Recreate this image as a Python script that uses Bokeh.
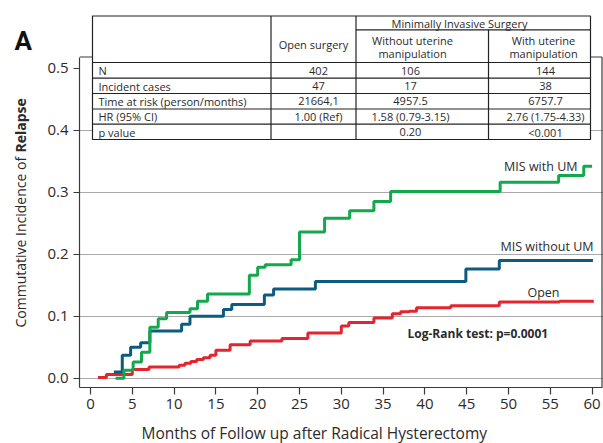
import numpy as np
from bokeh.plotting import figure
from bokeh.models import Range1d, FixedTicker, Label
from bokeh.layouts import row, column
from bokeh.core.properties import value
from bokeh.embed import file_html
from bokeh.resources import INLINE

# ---------------- data ----------------
with_um_months = [3.0, 4.0, 5.1, 6.1, 7.1, 8.1, 9.1, 11.9, 12.8, 14.0, 19.0, 20.0, 20.9,
                  24.0, 25.0, 28.0, 31.0, 33.9, 35.9, 49.0, 56.0, 59.0, 60.0]
with_um_values = [0.0, 0.013, 0.026, 0.042, 0.082, 0.096, 0.106, 0.112, 0.124, 0.136, 0.166,
                  0.179, 0.183, 0.191, 0.236, 0.258, 0.270, 0.285, 0.301, 0.316, 0.327,
                  0.342, 0.342]

without_um_months = [2.8, 3.8, 4.8, 6.0, 7.1, 10.9, 11.9, 15.9, 16.9, 20.8, 21.9, 26.9,
                     44.9, 48.9, 60.1]
without_um_values = [0.010, 0.037, 0.050, 0.057, 0.076, 0.087, 0.100, 0.111, 0.119, 0.134,
                     0.144, 0.156, 0.176, 0.190, 0.190]

open_months = [0.9, 1.9, 5.0, 7.0, 10.6, 11.3, 12.0, 12.7, 13.5, 14.3, 15.0, 16.7, 19.1,
               22.9, 26.0, 30.0, 30.9, 33.9, 36.1, 37.1, 38.1, 39.0, 43.1, 48.9, 56.1, 60.2]
open_values = [0.001, 0.006, 0.014, 0.018, 0.021, 0.024, 0.027, 0.030, 0.033, 0.037, 0.045,
               0.054, 0.060, 0.064, 0.073, 0.084, 0.090, 0.097, 0.104, 0.107, 0.108, 0.1136,
               0.117, 0.123, 0.124, 0.124]

x_ticks = [0, 5, 10, 15, 20, 25, 30, 35, 40, 45, 50, 55, 60]
y_ticks = [0.0, 0.1, 0.2, 0.3, 0.4, 0.5]
y_tick_labels = ["0.0", "0.1", "0.2", "0.3", "0.4", "0.5"]
grid_ticks = [0.0, 0.1, 0.2, 0.3, 0.4]

row_labels = ["N", "Incident cases", "Time at risk (person/months)", "HR (95% CI)", "p value"]
open_col = ["402", "47", "21664,1", "1.00 (Ref)", ""]
without_col = ["106", "17", "4957.5", "1.58 (0.79-3.15)", "0.20"]
with_col = ["144", "38", "6757.7", "2.76 (1.75-4.33)", "<0.001"]

# ---------------- layout / style ----------------
FONT = "Open Sans"
TXT = "#2b2b2b"
AX = "#3a3a3a"
GREEN, BLUE, RED = "#12a84b", "#0d5b80", "#e2252f"

W, H = 603, 443
LEFT_W = 40        # strip holding the y-axis title and the panel letter
BOTTOM_H = 23      # strip holding the x-axis title
FL, FR, FT, FB = 79, 603, 0, 387   # frame edges in page pixels
PX_X0, PX_PER_M = 90.0, 8.36
PX_Y0, PX_PER_U = 377.7, 620.0


def xd(px):
    return (px - PX_X0) / PX_PER_M


def yd(py):
    return (PX_Y0 - py) / PX_PER_U


MAIN_H = H - BOTTOM_H
p = figure(width=W - LEFT_W, height=MAIN_H, output_backend="svg", toolbar_location=None,
           x_range=Range1d(xd(FL), xd(FR)), y_range=Range1d(yd(FB), yd(FT)),
           min_border_left=FL - LEFT_W, min_border_right=W - FR, min_border_top=FT,
           min_border_bottom=MAIN_H - FB)
p.outline_line_color = None
p.background_fill_color = "white"
p.xgrid.visible = False
p.ygrid.ticker = FixedTicker(ticks=grid_ticks)
p.ygrid.grid_line_color = "#a9a9a9"
p.ygrid.grid_line_width = 1

for ax in (p.xaxis[0], p.yaxis[0]):
    ax.axis_line_color = AX
    ax.axis_line_width = 1.2
    ax.major_tick_line_color = AX
    ax.major_tick_line_width = 1.2
    ax.minor_tick_line_color = None
    ax.major_tick_in = 0
    ax.major_label_text_font = FONT
    ax.major_label_text_font_size = "15px"
    ax.major_label_text_color = TXT

p.xaxis.ticker = FixedTicker(ticks=x_ticks)
p.xaxis.major_tick_out = 7
p.xaxis.major_label_standoff = 4
p.xaxis.bounds = (xd(FL), xd(601.5))

p.yaxis.ticker = FixedTicker(ticks=y_ticks)
p.yaxis.major_label_overrides = {t: l for t, l in zip(y_ticks, y_tick_labels)}
p.yaxis.major_tick_out = 6
p.yaxis.major_label_standoff = 5
p.yaxis.bounds = (yd(FB), yd(56.5))

# box edges (top and right)
p.segment(x0=[xd(FL), xd(601.5)], y0=[yd(56.5), yd(56.5)],
          x1=[xd(601.5), xd(601.5)], y1=[yd(56.5), yd(FB)],
          line_color=AX, line_width=1.2)

# curves
for xs, ys, col in ((open_months, open_values, RED),
                    (without_um_months, without_um_values, BLUE),
                    (with_um_months, with_um_values, GREEN)):
    p.step(x=xs, y=ys, mode="after", line_color=col, line_width=3)

# ---------------- table ----------------
TL, TR, TT, TB = 92, 590, 15.5, 139
C1, C2, C3 = 270.5, 355.5, 488
ROWS = [62, 77.7, 93, 108.5, 123.7]
p.quad(left=[xd(TL)], right=[xd(TR)], top=[yd(TT)], bottom=[yd(TB)],
       fill_color="white", line_color="#222222", line_width=1.2)
hx0 = [xd(C2)] + [xd(TL)] * len(ROWS)
hx1 = [xd(TR)] * (len(ROWS) + 1)
hy = [yd(29.3)] + [yd(r) for r in ROWS]
p.segment(x0=hx0, y0=hy, x1=hx1, y1=hy, line_color="#222222", line_width=1.2)
vx = [xd(C1), xd(C2), xd(C3)]
vy0 = [yd(TT), yd(TT), yd(29.3)]
p.segment(x0=vx, y0=vy0, x1=vx, y1=[yd(TB)] * 3, line_color="#222222", line_width=1.2)

row_cy = [70, 85.5, 100.7, 116, 131.5]
tab_font = "11px"
p.text(x=[xd(98)] * 5, y=[yd(c) for c in row_cy], text=row_labels,
       text_font=value(FONT), text_font_size=tab_font, text_color=TXT,
       text_align="left", text_baseline="middle")
for cx, col in ((318, open_col), (410, without_col), (545, with_col)):
    p.text(x=[xd(cx)] * 5, y=[yd(c) for c in row_cy], text=col,
           text_font=value(FONT), text_font_size=tab_font, text_color=TXT,
           text_align="center", text_baseline="middle")

hdr_x = [xd(459), xd(313), xd(412), xd(412), xd(543), xd(543)]
hdr_y = [yd(22.5), yd(43.5), yd(40), yd(52.5), yd(40), yd(52.5)]
hdr_t = ["Minimally Invasive Surgery", "Open surgery", "Without uterine", "manipulation",
         "With uterine", "manipulation"]
p.text(x=hdr_x, y=hdr_y, text=hdr_t, text_font=value(FONT), text_font_size=tab_font,
       text_color=TXT, text_align="center", text_baseline="middle")


# ---------------- in-plot annotations ----------------
def lab(xp, yp, text, align="left", size="12.5px", style="normal"):
    p.add_layout(Label(x=xp - FL, y=FB - yp, x_units="screen", y_units="screen", text=text,
                       text_font=FONT, text_font_size=size, text_font_style=style,
                       text_color=TXT, text_align=align, text_baseline="middle"))


lab(577, 166, "MIS with UM", align="right")
lab(593, 246, "MIS without UM", align="right")
lab(559, 291.5, "Open", align="right")
lab(407, 333, "Log-Rank test: p=0.0001", size="12px", style="bold")


def strip(width, height, xr, yr):
    f = figure(width=width, height=height, output_backend="svg", toolbar_location=None,
               x_range=Range1d(*xr), y_range=Range1d(*yr),
               x_axis_type=None, y_axis_type=None,
               min_border_left=0, min_border_right=0, min_border_top=0, min_border_bottom=0)
    f.outline_line_color = None
    f.grid.visible = False
    return f


# ---------------- left strip: y-axis title (mixed weight) and panel letter ----------------
lf = strip(LEFT_W, H, (0, LEFT_W), (0, H))
lf.text(x=[19.5], y=[H - 327], text=["Commutative Incidence of"], angle=np.pi / 2,
        text_font=value(FONT), text_font_size="14px", text_color=TXT,
        text_align="left", text_baseline="middle")
lf.text(x=[19.5], y=[H - 152], text=["Relapse"], angle=np.pi / 2,
        text_font=value(FONT), text_font_size="14px", text_font_style="bold",
        text_color=TXT, text_align="left", text_baseline="middle")
lf.text(x=[14], y=[H - 40], text=["A"], text_font=value("Roboto"),
        text_font_size="26px", text_font_style="bold", text_color="#111111",
        text_align="left", text_baseline="alphabetic")

# ---------------- bottom strip: x-axis title ----------------
# in a column the strip's frame is aligned with the main frame, so use page pixels FL..FR
bf = strip(W - LEFT_W, BOTTOM_H, (FL, FR), (0, BOTTOM_H))
bf.text(x=[141], y=[H - 432.5], text=["Months of Follow up after Radical Hysterectomy"],
        text_font=value(FONT), text_font_size="15.5px", text_color=TXT,
        text_align="left", text_baseline="middle")

layout = row(lf, column(p, bf, spacing=0), spacing=0)
open("out.html", "w").write(file_html(layout, INLINE))
